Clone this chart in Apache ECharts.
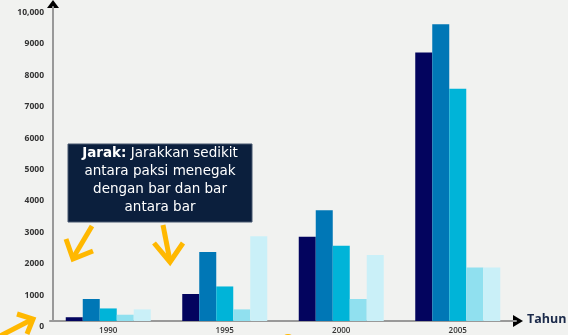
<!DOCTYPE html>
<html>
<head>
<meta charset="utf-8">
<script src="https://cdn.jsdelivr.net/npm/echarts@6/dist/echarts.min.js"></script>
<style>
  html, body { margin: 0; padding: 0; background: #f1f2f0; }
  #chart { width: 568px; height: 335px; }
</style>
</head>
<body>
<div id="chart"></div>
<script>
// data
const years = ['1990', '1995', '2000', '2005'];
const seriesA = [120, 860, 2680, 8550];
const seriesB = [700, 2200, 3530, 9450];
const seriesC = [400, 1100, 2400, 7400];
const seriesD = [200, 370, 700, 1700];
const seriesE = [370, 2700, 2100, 1700];
const yTicks = [0, 1000, 2000, 3000, 4000, 5000, 6000, 7000, 8000, 9000, 10000];

const colors = ['#03045e', '#0077b6', '#00b4d8', '#90e0ef', '#caf0f8'];
const yellow = '#ffb800';

function initChart(container) {
    const myChart = echarts.init(container);

    const allSeries = [seriesA, seriesB, seriesC, seriesD, seriesE];

    const option = {
        backgroundColor: '#f1f2f0',
        animation: false,
        grid: { left: 50, right: 52, top: 7, bottom: 14 },
        xAxis: {
            type: 'category',
            data: years,
            axisLine: { lineStyle: { color: '#999', width: 2 } },
            axisTick: { show: false },
            axisLabel: {
                margin: 6,
                color: '#333',
                fontSize: 8,
                fontWeight: 600,
                fontFamily: 'Open Sans'
            }
        },
        yAxis: {
            type: 'value',
            min: yTicks[0],
            max: yTicks[yTicks.length - 1],
            interval: 1000,
            offset: -3,
            splitLine: { show: false },
            axisLine: { show: true, lineStyle: { color: '#999', width: 2 } },
            axisTick: { show: false },
            axisLabel: {
                margin: 9,
                color: '#333',
                fontSize: 8.5,
                fontWeight: 700,
                fontFamily: 'Open Sans',
                verticalAlign: 'top',
                padding: [1, 0, 0, 0],
                formatter: v => (v === 10000 ? '10,000' : String(v))
            }
        },
        series: allSeries.map((d, i) => ({
            name: 'Siri ' + (i + 1),
            type: 'bar',
            data: d,
            barWidth: 17,
            barGap: '0%',
            itemStyle: { color: colors[i] }
        })),
        graphic: [
            // axis arrow heads
            { type: 'polygon', shape: { points: [[53, 0], [47, 8], [59, 8]] }, style: { fill: '#000' } },
            { type: 'polygon', shape: { points: [[513, 315], [523, 321], [513, 327]] }, style: { fill: '#000' } },
            {
                type: 'text', left: 527, top: 313,
                style: { text: 'Tahun', fill: '#1b2a4a', font: '700 12.5px "Open Sans"' }
            },
            // annotation box
            {
                type: 'rect',
                shape: { x: 68, y: 144, width: 184, height: 78 },
                style: { fill: '#0b1f3d', stroke: '#46566e', lineWidth: 1 }
            },
            {
                type: 'text',
                x: 160, y: 180,
                style: {
                    text: '{b|Jarak:} Jarakkan sedikit\nantara paksi menegak\ndengan bar dan bar\nantara bar',
                    fill: '#fff',
                    font: '13.5px "DejaVu Sans"',
                    lineHeight: 18,
                    align: 'center',
                    verticalAlign: 'middle',
                    rich: {
                        b: { fill: '#fff', fontWeight: 900, fontSize: 13.5, fontFamily: 'DejaVu Sans', lineHeight: 18 }
                    }
                }
            },
            // yellow arrows
            { type: 'polyline', shape: { points: [[92, 226], [73, 258]] }, style: { stroke: yellow, lineWidth: 5 } },
            { type: 'polyline', shape: { points: [[66, 239], [73, 259], [93, 251]] }, style: { stroke: yellow, lineWidth: 5, lineJoin: 'miter' } },
            { type: 'polyline', shape: { points: [[163, 225], [170, 261]] }, style: { stroke: yellow, lineWidth: 5 } },
            { type: 'polyline', shape: { points: [[154, 243], [170, 262], [183, 243]] }, style: { stroke: yellow, lineWidth: 5, lineJoin: 'miter' } },
            { type: 'polyline', shape: { points: [[-2, 337], [31, 320]] }, style: { stroke: yellow, lineWidth: 5 } },
            { type: 'polyline', shape: { points: [[17, 314], [33, 319], [27, 334]] }, style: { stroke: yellow, lineWidth: 5, lineJoin: 'miter' } },
            { type: 'circle', shape: { cx: 288, cy: 341, r: 7 }, style: { fill: yellow } }
        ]
    };

    myChart.setOption(option);
    return myChart;
}

initChart(document.getElementById('chart'));
</script>
</body>
</html>
